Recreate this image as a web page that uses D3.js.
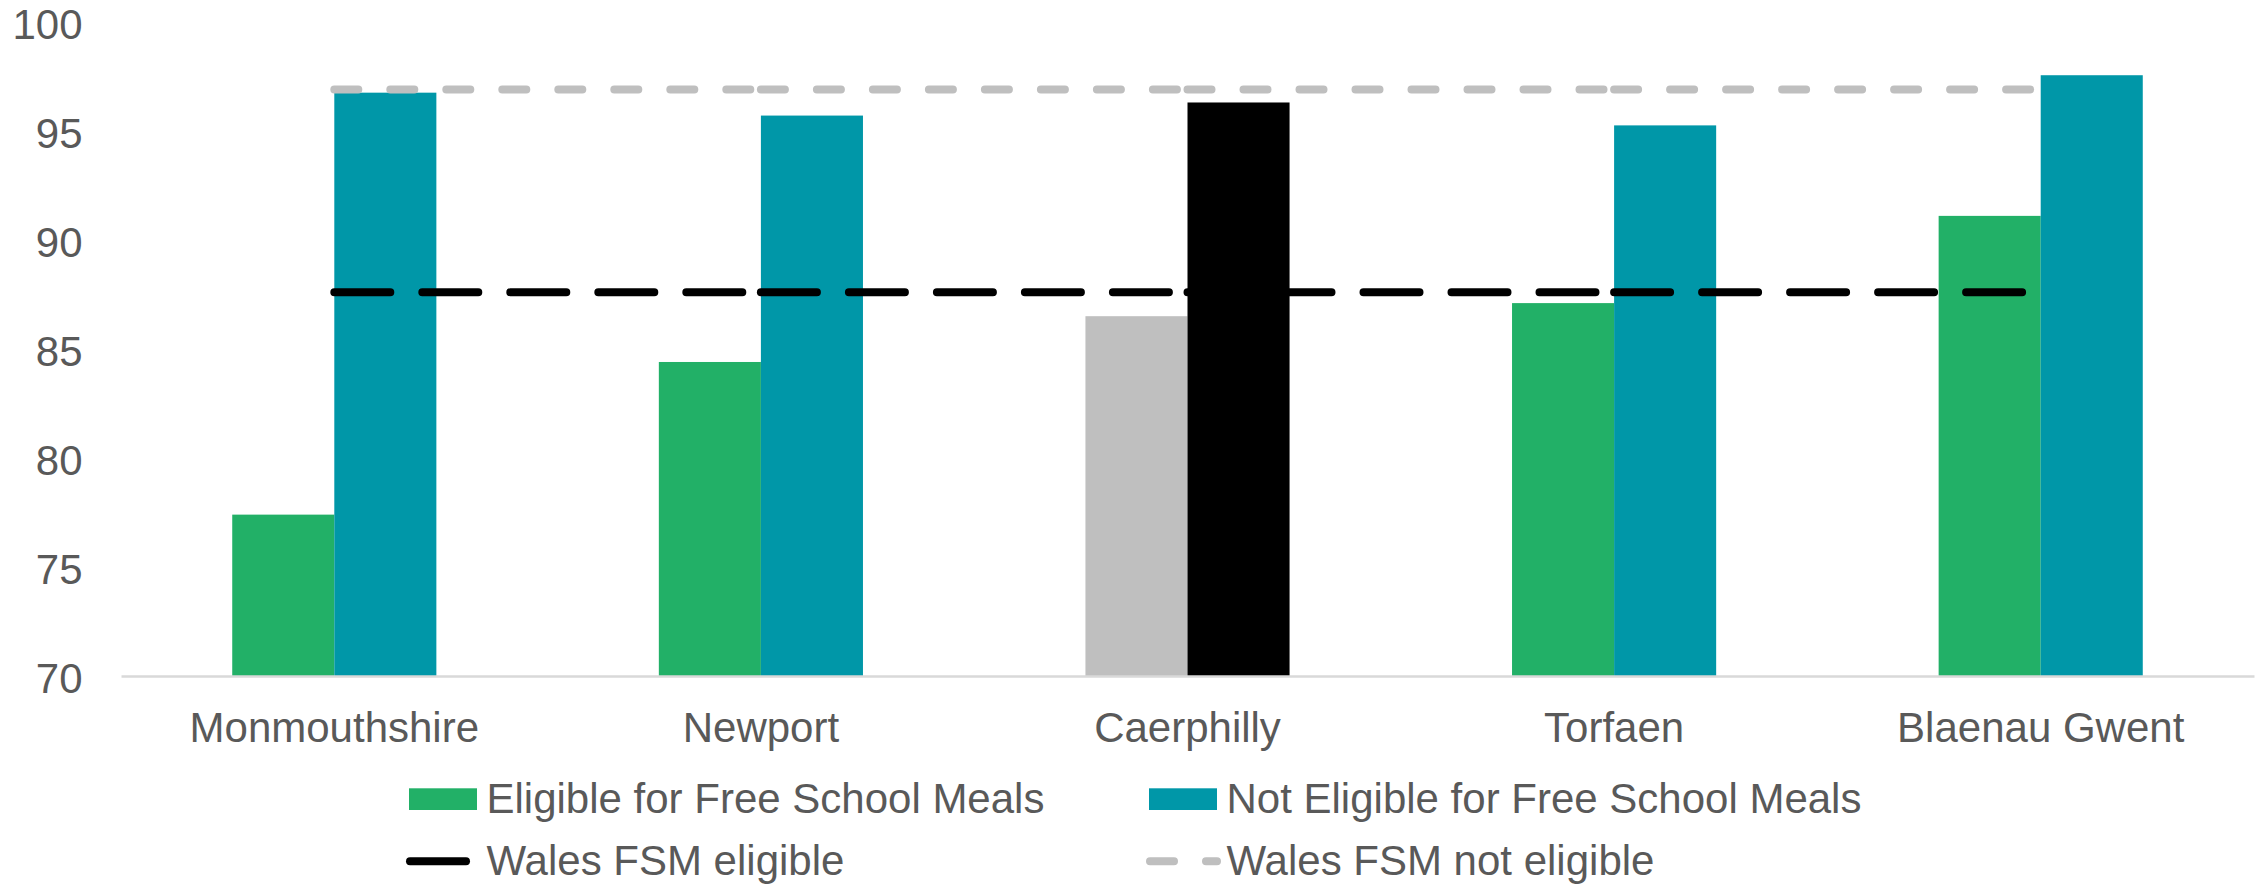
<!DOCTYPE html>
<html>
<head>
<meta charset="utf-8">
<script src="https://cdn.jsdelivr.net/npm/d3@7"></script>
<style>
  html, body { margin: 0; padding: 0; background: #ffffff; }
  svg { display: block; }
  text { font-family: "Liberation Sans", Arial, sans-serif; fill: #595959; }
</style>
</head>
<body>
<svg id="chart" width="2267" height="885"></svg>
<script>
// ---- data ----
const categories = ["Monmouthshire", "Newport", "Caerphilly", "Torfaen", "Blaenau Gwent"];
const eligible = [77.4, 84.4, 86.5, 87.1, 91.1];
const notEligible = [96.75, 95.7, 96.3, 95.25, 97.55];
const walesEligible = [87.6, 87.6, 87.6, 87.6, 87.6];
const walesNotEligible = [96.9, 96.9, 96.9, 96.9, 96.9];
const yTicks = [70, 75, 80, 85, 90, 95, 100];
const seriesNames = ["Eligible for Free School Meals", "Not Eligible for Free School Meals"];
const lineNames = ["Wales FSM eligible", "Wales FSM not eligible"];
const highlightCategory = "Caerphilly";

// ---- styles ----
const colors = {
  eligible: "#22B067",
  notEligible: "#0097A8",
  eligibleHi: "#BFBFBF",
  notEligibleHi: "#000000",
  walesEligible: "#000000",
  walesNotEligible: "#BFBFBF",
  axis: "#D9D9D9"
};

const svg = d3.select("#chart");
const plotLeft = 121, plotRight = 2254, plotBottom = 676, plotTop = 21.8;

const x0 = d3.scaleBand().domain(categories).range([plotLeft, plotRight]).padding(0);
const step = x0.bandwidth();
const groupW = step * 0.4785;
const x1 = d3.scaleBand().domain(["eligible", "notEligible"])
  .range([(step - groupW) / 2, (step + groupW) / 2]).padding(0);
const y = d3.scaleLinear().domain([70, 100]).range([plotBottom, plotTop]);

// ---- bars ----
const rows = categories.map((c, i) => ({ cat: c, eligible: eligible[i], notEligible: notEligible[i] }));
const g = svg.append("g");
const groups = g.selectAll("g.cat").data(rows).join("g")
  .attr("class", "cat")
  .attr("transform", d => `translate(${x0(d.cat)},0)`);
groups.selectAll("rect").data(d => ["eligible", "notEligible"].map(k => ({ key: k, value: d[k], cat: d.cat })))
  .join("rect")
  .attr("x", d => x1(d.key))
  .attr("width", x1.bandwidth())
  .attr("y", d => y(d.value))
  .attr("height", d => y(70) - y(d.value))
  .attr("fill", d => d.cat === highlightCategory ? colors[d.key + "Hi"] : colors[d.key]);

// ---- axes ----
const yAxis = d3.axisLeft(y).tickValues(yTicks).tickSize(0).tickPadding(38.5).tickFormat(d3.format("d"));
const yg = svg.append("g").attr("transform", `translate(${plotLeft},0)`).call(yAxis);
yg.select(".domain").remove();
yg.selectAll("text").attr("font-size", 42).attr("dy", "0.39em")
  .style("font-family", '"Liberation Sans", Arial, sans-serif').attr("fill", "#595959");

const xAxis = d3.axisBottom(x0).tickSize(0).tickSizeOuter(0);
const xg = svg.append("g").attr("transform", `translate(0,${plotBottom})`).call(xAxis);
xg.select(".domain").attr("stroke", colors.axis).attr("stroke-width", 2.5);
xg.selectAll("text").attr("font-size", 42).attr("y", 66).attr("dy", 0)
  .style("font-family", '"Liberation Sans", Arial, sans-serif').attr("fill", "#595959");

// ---- Wales reference lines (segments restart dash pattern at each point) ----
const line = d3.line().x(d => d[0]).y(d => d[1]);
function drawRefLine(values, color, dash) {
  const pts = categories.map((c, i) => [x0(c) + step / 2, y(values[i])]);
  const segs = d3.pairs(pts);
  svg.append("g").selectAll("path").data(segs).join("path")
    .attr("d", d => line(d))
    .attr("fill", "none")
    .attr("stroke", color)
    .attr("stroke-width", 8)
    .attr("stroke-linecap", "round")
    .attr("stroke-dasharray", dash);
}
drawRefLine(walesNotEligible, colors.walesNotEligible, "24,32");
drawRefLine(walesEligible, colors.walesEligible, "56,32");

// ---- legend ----
const legend = svg.append("g");
const col = [409, 1149];
const textOff = 77.5;
// row 1: bar swatches
[["eligible", 0], ["notEligible", 1]].forEach(([k, i]) => {
  legend.append("rect").attr("x", col[i]).attr("y", 788.3).attr("width", 68).attr("height", 21.7).attr("fill", colors[k]);
  legend.append("text").attr("x", col[i] + textOff).attr("y", 813.3).attr("font-size", 42).text(seriesNames[i]);
});
// row 2: line swatches
[[colors.walesEligible, "56,32", 0], [colors.walesNotEligible, "24,32", 1]].forEach(([c, dash, i]) => {
  legend.append("path").attr("d", line([[col[i] + 1, 861.3], [col[i] + 68, 861.3]]))
    .attr("stroke", c).attr("stroke-width", 8).attr("stroke-linecap", "round")
    .attr("stroke-dasharray", dash).attr("fill", "none");
  legend.append("text").attr("x", col[i] + textOff).attr("y", 875).attr("font-size", 42).text(lineNames[i]);
});
</script>
</body>
</html>
